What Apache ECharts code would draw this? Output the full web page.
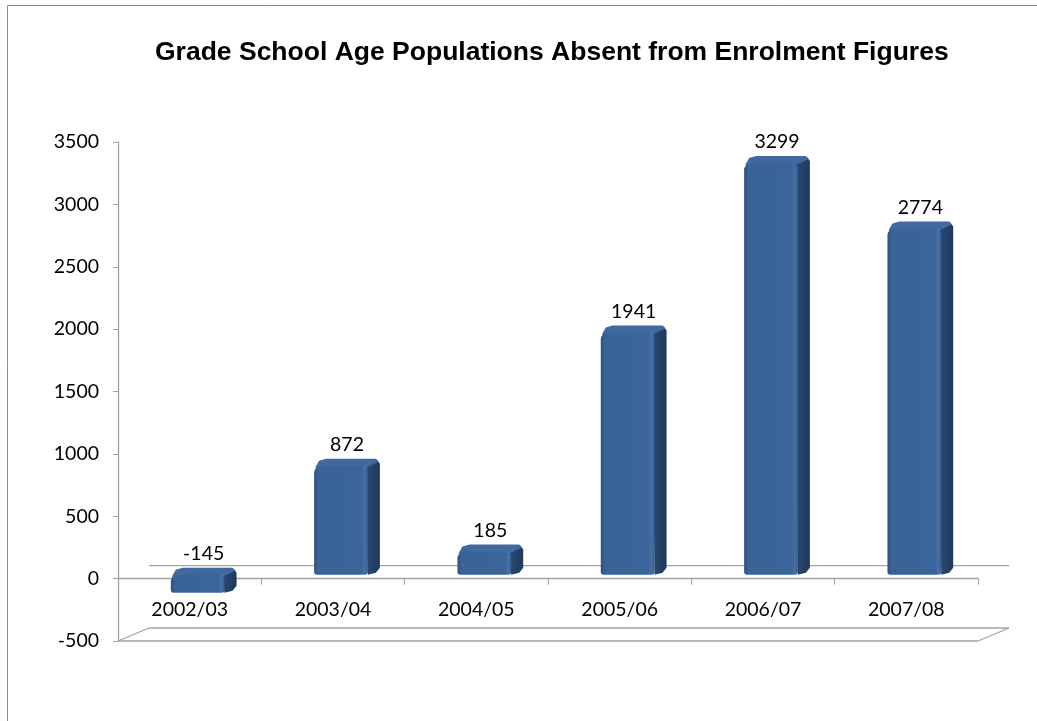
<!DOCTYPE html>
<html>
<head>
<meta charset="utf-8">
<script src="https://cdn.jsdelivr.net/npm/echarts@6/dist/echarts.min.js"></script>
<style>html,body{margin:0;padding:0;background:#fff;}#c{width:1037px;height:721px;}</style>
</head>
<body>
<div id="c"></div>
<script>
var titleText = 'Grade School Age Populations Absent from Enrolment Figures';
var categories = ['2002/03', '2003/04', '2004/05', '2005/06', '2006/07', '2007/08'];
var values = [-145, 872, 185, 1941, 3299, 2774];
var yTicks = [-500, 0, 500, 1000, 1500, 2000, 2500, 3000, 3500];

var FONT = 'Lato';
var LBL = 19.5;
var AXC = '#a3a3a3';
var GRID = { left: 118, right: 59, top: 142, bottom: 80 };
var plotH = 721 - GRID.top - GRID.bottom;
var yMinV = yTicks[0], yMaxV = yTicks[yTicks.length - 1];
// distance from grid bottom up to the value 0, so the category axis sits on zero
var zeroOffset = plotH * (0 - yMinV) / (yMaxV - yMinV);

function renderBar(params, api) {
  var idx = api.value(0), v = api.value(1);
  var pBase = api.coord([idx, 0]);
  var pVal = api.coord([idx, v]);
  var band = api.size([1, 0])[0];
  var w = band * 0.375;
  var dx = 8, dy = -4;
  var cx = pBase[0] + dx;
  var x0 = cx - w / 2, x1 = cx + w / 2;
  var yTop = Math.min(pBase[1], pVal[1]) + dy;
  var yBot = Math.max(pBase[1], pVal[1]) + dy;
  var sd = 12, su = 7;
  return {
    type: 'group',
    children: [
      { type: 'polygon', shape: { points: [[x1 - 3, yTop + 2], [x1 + sd - 3, yTop - su + 1], [x1 + sd, yTop - su + 5], [x1 + sd, yBot - su], [x1 + sd - 4, yBot - 2], [x1, yBot]] },
        style: { fill: new echarts.graphic.LinearGradient(0, 0, 1, 0, [
          { offset: 0, color: '#2a4a75' }, { offset: 1, color: '#20395b' }]) } },
      { type: 'polygon', shape: { points: [[x0 + 1, yTop + 2], [x0 + 5, yTop - su + 2], [x0 + sd, yTop - su], [x1 + sd - 4, yTop - su], [x1 + sd - 1, yTop - su + 3], [x1, yTop + 1]] },
        style: { fill: '#41699f' } },
      { type: 'rect', shape: { x: x0, y: yTop, width: w, height: Math.max(yBot - yTop, 2), r: [7, 5, 3, 3] },
        style: { fill: new echarts.graphic.LinearGradient(0, 0, 1, 0, [
          { offset: 0, color: '#2d5080' }, { offset: 0.08, color: '#3a6398' },
          { offset: 0.88, color: '#3b649a' }, { offset: 0.95, color: '#4670a6' }, { offset: 1, color: '#33588a' }]) } },
      { type: 'text', style: { text: String(v), x: cx + sd / 2, y: yTop - su - 4, align: 'center', verticalAlign: 'bottom',
        font: LBL + 'px ' + FONT, fill: '#000' } }
    ]
  };
}

function renderFrame(params, api) {
  var cs = params.coordSys;
  var xL = cs.x, xR = cs.x + cs.width;
  var y0 = api.coord([0, 0])[1];
  var yMin = api.coord([0, yMinV])[1];
  var ox = 31, oy = -13;
  var ls = { stroke: AXC, lineWidth: 1.3 };
  return {
    type: 'group',
    children: [
      { type: 'line', shape: { x1: xL + ox, y1: y0 + oy, x2: xR + ox, y2: y0 + oy }, style: ls },
      { type: 'line', shape: { x1: xL + ox, y1: yMin + oy, x2: xR + ox, y2: yMin + oy }, style: ls },
      { type: 'line', shape: { x1: xL, y1: yMin, x2: xR, y2: yMin }, style: ls },
      { type: 'line', shape: { x1: xL, y1: yMin, x2: xL + ox, y2: yMin + oy }, style: ls },
      { type: 'line', shape: { x1: xR, y1: yMin, x2: xR + ox, y2: yMin + oy }, style: ls }
    ]
  };
}

var chart = echarts.init(document.getElementById('c'));
chart.setOption({
  animation: false,
  backgroundColor: '#fff',
  title: {
    text: titleText, left: 150, top: 34,
    textStyle: { fontFamily: 'Liberation Sans', fontWeight: 'bold', fontSize: 26.5, color: '#000' }
  },
  graphic: [{ type: 'rect', shape: { x: 7.5, y: 5.5, width: 1100, height: 800 }, style: { fill: 'none', stroke: '#8a8a8a', lineWidth: 1 }, silent: true }],
  grid: GRID,
  xAxis: {
    type: 'category', data: categories, boundaryGap: true,
    position: 'bottom', offset: -zeroOffset,
    axisLine: { onZero: false, lineStyle: { color: AXC, width: 1.3 } },
    axisTick: { show: true, length: 6, lineStyle: { color: AXC } },
    axisLabel: { margin: 21, fontFamily: FONT, fontSize: LBL, color: '#000' },
    splitLine: { show: false }
  },
  yAxis: {
    type: 'value', min: yMinV, max: yMaxV, interval: 500,
    axisLine: { show: true, lineStyle: { color: AXC, width: 1.3 } },
    axisTick: { show: true, length: 5, lineStyle: { color: AXC } },
    axisLabel: { margin: 19, fontFamily: FONT, fontSize: LBL, color: '#000', formatter: function (v) { return String(v); } },
    splitLine: { show: false }
  },
  series: [
    { type: 'custom', renderItem: renderFrame, data: [[0, 0]], z: 1, silent: true },
    { type: 'custom', renderItem: renderBar, z: 5,
      data: categories.map(function (c, i) { return [i, values[i]]; }),
      encode: { x: 0, y: 1 } }
  ]
});
</script>
</body>
</html>
